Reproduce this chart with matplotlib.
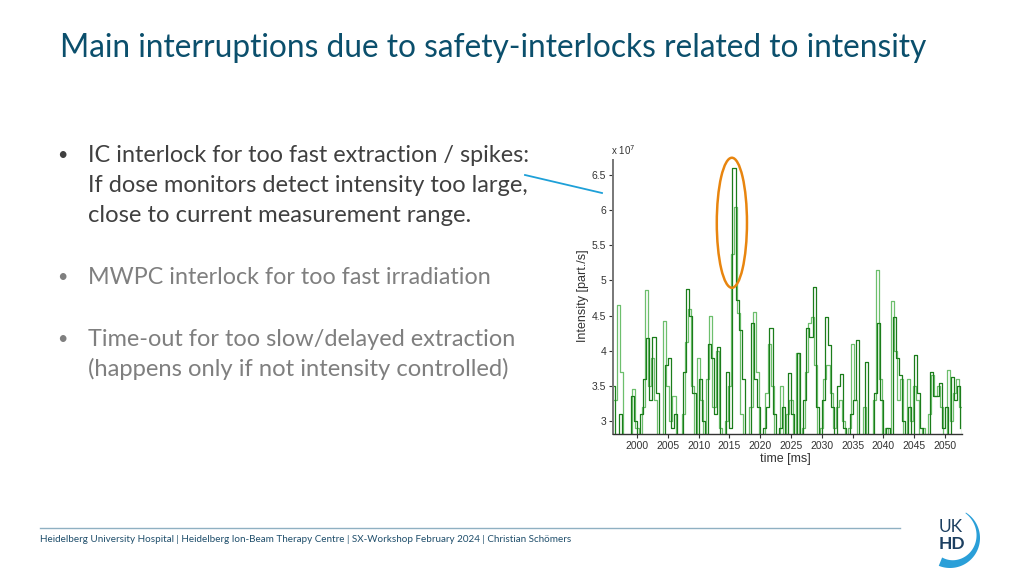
import numpy as np
import matplotlib
matplotlib.use("Agg")
import matplotlib.pyplot as plt
from matplotlib.patches import Ellipse, Polygon
from matplotlib.ticker import FuncFormatter

# ---------------- data (intensity in units of 1e7 part./s) ----------------
t_start = 1996.0
dt = 0.5
monitor_dark = [3.5, 2.6, 3.1, 2.5, 2.5, 2.5, 3.35, 3.0, 2.5, 3.1,
                3.6, 4.18, 3.3, 4.2, 3.4, 2.5, 2.5, 3.8, 3.9, 2.9,
                3.1, 2.5, 2.5, 3.7, 4.88, 4.5, 3.4, 2.5, 3.6, 3.0,
                2.5, 4.1, 3.9, 3.1, 4.05, 2.5, 2.5, 3.7, 2.9, 6.6,
                4.72, 4.3, 3.6, 2.5, 2.5, 4.4, 3.6, 3.2, 2.5, 2.9,
                3.2, 4.32, 3.1, 2.5, 2.9, 3.2, 2.5, 3.68, 3.1, 2.5,
                3.97, 2.5, 3.3, 4.32, 4.2, 4.9, 3.2, 2.5, 3.3, 4.48,
                4.08, 3.2, 2.8, 3.5, 3.67, 2.9, 2.5, 3.1, 3.3, 4.15,
                2.5, 2.5, 3.84, 2.5, 2.5, 3.4, 4.4, 3.3, 2.5, 2.9,
                2.5, 4.48, 3.9, 3.65, 3.0, 2.5, 3.2, 2.5, 3.94, 3.4,
                2.9, 2.5, 2.5, 3.7, 3.35, 3.35, 3.54, 2.9, 3.2, 2.5,
                3.62, 3.3, 3.5, 2.9]
monitor_light = [3.3, 4.65, 3.7, 2.5, 2.5, 2.5, 3.45, 2.9, 2.5, 3.2,
                 4.86, 3.5, 3.9, 3.3, 2.5, 2.5, 4.42, 3.5, 3.0, 3.35,
                 2.5, 2.5, 3.1, 4.12, 4.6, 3.5, 2.5, 3.9, 3.3, 2.5,
                 3.6, 4.5, 3.2, 4.0, 2.9, 2.5, 3.0, 3.5, 5.37, 6.05,
                 4.54, 3.1, 2.5, 2.5, 3.2, 4.55, 3.7, 2.5, 2.5, 3.4,
                 4.1, 3.5, 2.5, 2.5, 3.5, 2.5, 3.1, 3.3, 2.5, 3.97,
                 2.5, 2.9, 3.7, 4.4, 4.48, 3.8, 2.5, 2.9, 3.6, 3.8,
                 3.4, 2.9, 3.2, 3.3, 3.0, 2.5, 2.9, 4.1, 3.3, 2.5,
                 2.5, 3.2, 2.5, 2.5, 3.3, 5.15, 3.6, 2.5, 2.9, 2.5,
                 4.7, 4.0, 3.3, 3.6, 2.5, 3.6, 3.0, 3.5, 3.3, 2.5,
                 2.9, 2.5, 3.1, 3.65, 3.35, 3.5, 3.2, 2.5, 3.72, 3.0,
                 3.4, 3.6, 3.2, 2.5]
x_ticks = [2000, 2005, 2010, 2015, 2020, 2025, 2030, 2035, 2040, 2045, 2050]
y_ticks = [3, 3.5, 4, 4.5, 5, 5.5, 6, 6.5]

title = "Main interruptions due to safety-interlocks related to intensity"
bullets = [
    (["IC interlock for too fast extraction / spikes:",
      "If dose monitors detect intensity too large,",
      "close to current measurement range."], "#404040"),
    (["MWPC interlock for too fast irradiation"], "#7f7f7f"),
    (["Time-out for too slow/delayed extraction",
      "(happens only if not intensity controlled)"], "#7f7f7f"),
]
footer = ("Heidelberg University Hospital | Heidelberg Ion-Beam Therapy Centre | "
          "SX-Workshop February 2024 | Christian Schömers")

# ---------------- figure ----------------
W, H = 1024, 576
fig = plt.figure(figsize=(W / 100, H / 100), dpi=100)
fig.patch.set_facecolor("white")
ov = fig.add_axes([0, 0, 1, 1])
ov.set_xlim(0, W)
ov.set_ylim(H, 0)
ov.axis("off")
renderer = fig.canvas.get_renderer()


def fit_text(x, y, s, width, fs0=16, **kw):
    t = ov.text(x, y, s, fontsize=fs0, **kw)
    bb = t.get_window_extent(renderer=renderer)
    t.set_fontsize(fs0 * width / bb.width)
    return t


fit_text(60, 48, title, 868, fs0=20, family="Lato", color="#0b4f6c",
         va="center", ha="left")

line_y = [[155, 186, 216], [277], [339, 369]]
line_w = [[442, 442, 385], [404], [428, 422]]
for (lines, col), ys, ws in zip(bullets, line_y, line_w):
    ov.text(62, ys[0], "•", fontsize=13, family="Lato", color=col,
            va="center", ha="center")
    for s, y, w in zip(lines, ys, ws):
        fit_text(88, y, s, w, fs0=14, family="Lato", color=col,
                 va="center", ha="left")

# pointer line
ov.plot([525, 602], [175, 193], color="#1ea0d8", lw=1.3)

# footer
ov.plot([40, 900], [528, 528], color="#8fb0c2", lw=1.0)
fit_text(40, 539, footer, 528, fs0=7, family="Lato", color="#1f4e6b",
         va="center", ha="left")

# logo
ov.text(951, 527, "UK", fontsize=12.5, family="Lato", color="#1c3f60",
        va="center", ha="center")
ov.text(952, 544, "HD", fontsize=12.5, family="Lato", weight="bold",
        color="#1c3f60", va="center", ha="center")
th = np.radians(np.linspace(-58, 112, 80))
cx, cy, r = 950, 538, 30
wth = np.linspace(0.8, 9, th.size)
outer = np.column_stack([cx + r * np.cos(th), cy + r * np.sin(th)])
inner = np.column_stack([cx + (r - wth) * np.cos(th), cy + (r - wth) * np.sin(th)])[::-1]
ov.add_patch(Polygon(np.vstack([outer, inner]), closed=True,
                     facecolor="#2a9fd8", edgecolor="none"))

# ---------------- chart ----------------
ax = fig.add_axes([613 / W, (H - 434) / H, (962 - 613) / W, (434 - 160) / H])
ax.set_facecolor("none")
t_dark = t_start + dt * np.arange(len(monitor_dark))
t_light = t_start + dt / 2 + dt * np.arange(len(monitor_light))
ax.step(t_light, monitor_light, where="post", color="#6dbf6d", lw=0.9)
ax.step(t_dark, monitor_dark, where="post", color="#1b7d1b", lw=0.9)
ax.set_xlim(1996.1, 2052.76)
ax.set_ylim(2.815, 6.713)
ax.set_xticks(x_ticks)
ax.set_yticks(y_ticks)
ax.yaxis.set_major_formatter(FuncFormatter(lambda v, p: f"{v:g}"))
for sp in ["top", "right"]:
    ax.spines[sp].set_visible(False)
ax.spines["left"].set_color("#777777")
ax.spines["bottom"].set_color("#333333")
ax.spines["left"].set_linewidth(1.4)
ax.spines["bottom"].set_linewidth(1.0)
ax.tick_params(axis="both", direction="out", length=3, width=0.8,
               labelsize=7.5, colors="#333333", pad=2)
for lab in ax.get_xticklabels() + ax.get_yticklabels():
    lab.set_family("Liberation Sans")
ax.set_xlabel("time [ms]", family="Liberation Sans", fontsize=9, color="#333333")
ax.set_ylabel("Intensity [part./s]", family="Liberation Sans", fontsize=9,
              color="#333333")
ax.xaxis.set_label_coords((785 - 613) / 349, (434 - 459) / 274)
ax.xaxis.label.set_va("center")
ax.yaxis.set_label_coords((583 - 613) / 349, (434 - 296) / 274)
ax.yaxis.label.set_va("center")
ax.text(-0.005, 1.035, r"x 10$^7$", transform=ax.transAxes, fontsize=7,
        family="Liberation Sans", color="#333333", ha="left", va="center")

# highlight of the spike
ax.add_patch(Ellipse((2015.4, 5.82), 4.9, 1.85, fill=False,
                     edgecolor="#e8850f", lw=1.8, clip_on=False, zorder=5))

fig.savefig("out.png", dpi=100, facecolor="white")
